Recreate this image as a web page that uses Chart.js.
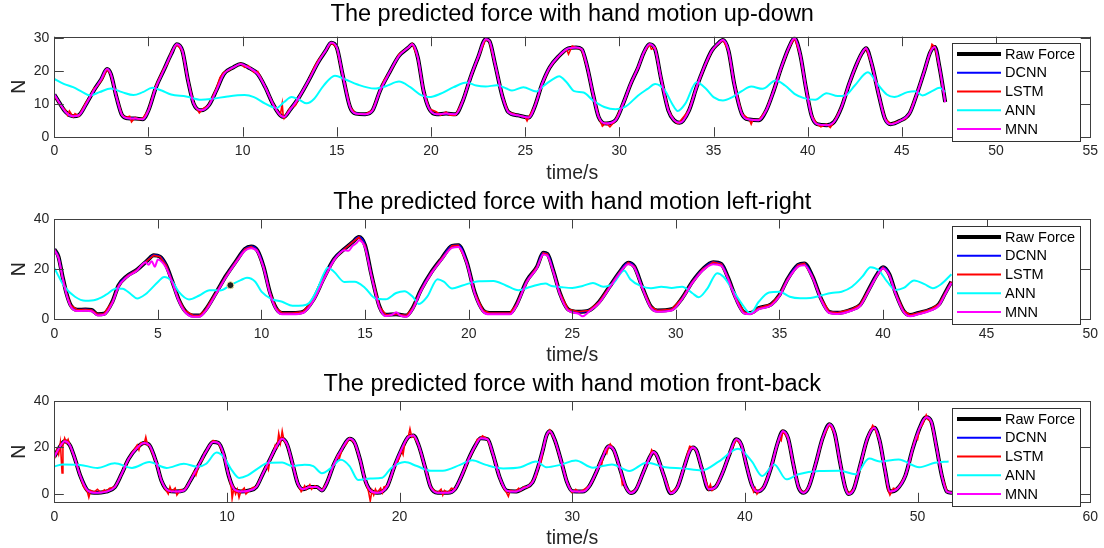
<!DOCTYPE html>
<html>
<head>
<meta charset="utf-8">
<script src="https://cdn.jsdelivr.net/npm/chart.js@4.4.0/dist/chart.umd.min.js"></script>
<style>
html, body { margin: 0; padding: 0; background: #fff; }
#wrap { position: relative; width: 1104px; height: 548px; }
canvas { position: absolute; left: 0; }
</style>
</head>
<body>
<div id="wrap">
<canvas id="upDown" width="1104" height="186" style="top:0px"></canvas>
<canvas id="leftRight" width="1104" height="183" style="top:186px"></canvas>
<canvas id="frontBack" width="1104" height="179" style="top:369px"></canvas>
</div>
<script>
// ---- data: [time (s), force (N)] ----
var seriesNames = ["Raw Force", "DCNN", "LSTM", "ANN", "MNN"];
var titles = [
    "The predicted force with hand motion up-down",
    "The predicted force with hand motion left-right",
    "The predicted force with hand motion front-back"
];
var xTicksUpDown = [0, 5, 10, 15, 20, 25, 30, 35, 40, 45, 50, 55];
var yTicksUpDown = [0, 10, 20, 30];
var xTicksLeftRight = [0, 5, 10, 15, 20, 25, 30, 35, 40, 45, 50];
var yTicksLeftRight = [0, 20, 40];
var xTicksFrontBack = [0, 10, 20, 30, 40, 50, 60];
var yTicksFrontBack = [0, 20, 40];

var rawUpDown = [[0, 12.8], [0.3, 10], [0.6, 7.5], [1.0, 6.2], [1.3, 6.5], [1.7, 10], [2.1, 14], [2.5, 17.5], [2.8, 20.5], [3.0, 19], [3.3, 12], [3.6, 6.5], [3.9, 5.6], [4.3, 5.5], [4.7, 5.3], [5.0, 8], [5.4, 15], [5.8, 20], [6.2, 25], [6.5, 28], [6.8, 26], [7.1, 17], [7.4, 10], [7.8, 8], [8.2, 9.5], [8.6, 14], [9.0, 19], [9.5, 21], [9.9, 22], [10.3, 21], [10.8, 19], [11.2, 15], [11.6, 10], [12.0, 6.5], [12.2, 6], [12.5, 8], [13.0, 12], [13.5, 17], [14.0, 22.5], [14.4, 26], [14.7, 28.5], [15.0, 27], [15.3, 19], [15.7, 9], [16.0, 7], [16.5, 6.8], [16.9, 8], [17.3, 14], [17.8, 19.5], [18.3, 24.5], [18.8, 27], [19.0, 28], [19.3, 24], [19.6, 14], [19.9, 8.5], [20.3, 6.8], [20.8, 7], [21.3, 6.8], [21.7, 11], [22.1, 18], [22.5, 24], [22.9, 29.5], [23.1, 29], [23.4, 22], [23.8, 12], [24.1, 7.5], [24.6, 6.5], [25.2, 5.8], [25.5, 9], [25.9, 16], [26.3, 21], [26.8, 24.5], [27.2, 26.5], [27.7, 27], [28.0, 26.5], [28.3, 21], [28.6, 13], [28.9, 6], [29.3, 4], [29.8, 5], [30.2, 10], [30.6, 16], [31.0, 21], [31.3, 25.5], [31.6, 28], [31.9, 26.5], [32.2, 18], [32.6, 8], [32.9, 5], [33.2, 4.2], [33.7, 8], [34.1, 15], [34.5, 21], [34.9, 26], [35.2, 28], [35.5, 29.3], [35.8, 26], [36.1, 16], [36.5, 7], [36.9, 5.2], [37.4, 5], [37.8, 8], [38.2, 14], [38.6, 21], [39.0, 27], [39.3, 29.8], [39.6, 25], [39.9, 15], [40.2, 6.5], [40.5, 3.8], [41.0, 3.5], [41.4, 4.5], [41.8, 9], [42.2, 16], [42.6, 22], [42.9, 25.5], [43.1, 26.8], [43.4, 22], [43.8, 12], [44.1, 5.5], [44.4, 3.8], [44.9, 4.8], [45.4, 7], [45.8, 13], [46.2, 20], [46.5, 25.5], [46.75, 27.2], [47.0, 21], [47.3, 10.5]];
var lstmUpDown = [[0, 12.5], [0.4, 9], [0.6, 8], [0.7, 6.5], [0.8, 7.8], [1.0, 6], [1.1, 7], [1.3, 6.2], [1.7, 10.5], [1.9, 12], [2.1, 14.5], [2.3, 15.5], [2.5, 17], [2.8, 20.4], [3.0, 19], [3.3, 12], [3.6, 6.5], [3.8, 5.8], [4.0, 6.2], [4.1, 4.5], [4.3, 5.8], [4.5, 5.2], [4.7, 5.6], [5.0, 8], [5.4, 15.5], [5.8, 20.5], [6.0, 22], [6.2, 25.5], [6.5, 28], [6.8, 26], [7.1, 17], [7.4, 10], [7.7, 7.2], [7.9, 8.5], [8.2, 9.5], [8.6, 14.5], [8.8, 18], [9.0, 19.5], [9.3, 20.2], [9.5, 21], [9.9, 22.2], [10.1, 21], [10.3, 21.5], [10.6, 19.5], [10.8, 19.8], [11.2, 15], [11.6, 10], [11.8, 8], [12.0, 6.5], [12.1, 10], [12.15, 6.5], [12.2, 5.5], [12.5, 8.5], [12.8, 9.5], [13.0, 12], [13.5, 17], [13.8, 21], [14.0, 23], [14.4, 26], [14.7, 28.5], [15.0, 27], [15.3, 19], [15.7, 9], [16.0, 7], [16.5, 6.8], [16.9, 8], [17.3, 14], [17.5, 17], [17.8, 19.5], [18.0, 21.5], [18.3, 25], [18.8, 27], [19.0, 28.2], [19.3, 24], [19.6, 14], [19.9, 8.5], [20.3, 7.5], [20.5, 6.5], [20.8, 7.5], [21.0, 6.5], [21.3, 6.5], [21.7, 11], [22.1, 18], [22.5, 24], [22.9, 29.5], [23.1, 29], [23.4, 22], [23.8, 12], [24.1, 7.5], [24.6, 6.5], [25.0, 6], [25.1, 4.8], [25.2, 6], [25.5, 9], [25.9, 16], [26.3, 21], [26.5, 22.5], [26.8, 24.5], [27.2, 26.5], [27.3, 25], [27.5, 27.5], [27.7, 27], [28.0, 26.5], [28.3, 21], [28.6, 13], [28.9, 6], [29.1, 3.2], [29.3, 4.2], [29.5, 3], [29.8, 5], [30.2, 10], [30.6, 16], [31.0, 21], [31.3, 25.5], [31.6, 28], [31.7, 26.5], [31.9, 27], [32.2, 18], [32.6, 8], [32.9, 5], [33.1, 4], [33.2, 4.5], [33.7, 8], [34.1, 15], [34.5, 21], [34.9, 26], [35.2, 28], [35.5, 29.3], [35.8, 26], [36.1, 16], [36.5, 7], [36.9, 5.2], [37.0, 3.8], [37.1, 5.2], [37.4, 5], [37.8, 8], [38.2, 14], [38.6, 21], [39.0, 27], [39.3, 29.8], [39.6, 25], [39.9, 15], [40.2, 6.5], [40.5, 3.8], [40.7, 3], [41.0, 3.8], [41.2, 2.8], [41.4, 4.5], [41.8, 9], [42.2, 16], [42.6, 22], [42.7, 23], [42.8, 24.5], [42.9, 25.5], [43.1, 26.8], [43.4, 22], [43.8, 12], [44.1, 5.5], [44.4, 3.8], [44.9, 4.8], [45.2, 5.5], [45.4, 7], [45.8, 13], [46.2, 20], [46.5, 25.5], [46.6, 28], [46.75, 27.2], [47.0, 21], [47.3, 10.5]];
var annUpDown = [[0, 17.5], [0.5, 16], [1.0, 15], [1.5, 13.5], [1.9, 12.5], [2.4, 13.5], [3.0, 14.6], [3.6, 13.5], [4.2, 12.6], [4.7, 13.5], [5.2, 14.8], [5.7, 14], [6.2, 12.8], [7.0, 12.2], [7.8, 11.2], [8.4, 11.5], [9.2, 12.2], [10.1, 12.6], [10.6, 12], [11.2, 10], [11.8, 8.7], [12.2, 10.5], [12.6, 12], [13.0, 11.2], [13.4, 10.1], [13.8, 11.5], [14.3, 15.5], [14.9, 18.5], [15.4, 17.5], [16.1, 15.8], [17.0, 14.6], [17.6, 15.3], [18.3, 16.7], [18.9, 15], [19.5, 12.5], [19.9, 12], [20.5, 13], [21.2, 15], [21.9, 16.4], [22.4, 15.5], [22.9, 15.2], [23.5, 15.6], [24.0, 14.6], [24.3, 14], [24.9, 15], [25.6, 13.7], [26.0, 15.5], [26.5, 17.5], [26.8, 18.3], [27.2, 16.5], [27.6, 13.8], [28.1, 13.4], [28.6, 11], [29.2, 9], [29.8, 8.3], [30.3, 9], [31.0, 12.5], [31.5, 14.5], [31.9, 16], [32.4, 14.2], [32.8, 10], [33.1, 7.8], [33.5, 10], [34.1, 16.5], [34.6, 14.5], [35.0, 12], [35.5, 11], [36.0, 12], [36.5, 13.8], [37.0, 15.2], [37.6, 14.5], [38.3, 17], [38.8, 15.5], [39.3, 13], [39.8, 11.7], [40.4, 11.2], [41.0, 13.2], [41.6, 12.3], [42.0, 12.5], [42.5, 15.5], [43.2, 19.5], [43.7, 16], [44.2, 12.8], [44.6, 12], [45.3, 13.5], [45.7, 13.8], [46.1, 12.5], [46.6, 13.8], [47.0, 14.8], [47.3, 13.5]];

var rawLeftRight = [[0, 28], [0.2, 25], [0.4, 17], [0.6, 10], [0.8, 5.5], [1.1, 3.8], [1.5, 3.9], [1.8, 3.7], [2.1, 2], [2.4, 2.2], [2.8, 7], [3.1, 13.5], [3.5, 17.2], [4.0, 19.8], [4.5, 23.5], [4.8, 25.5], [5.1, 25], [5.4, 21.5], [5.7, 15], [6.0, 8], [6.3, 3.5], [6.7, 1.5], [7.0, 1.5], [7.3, 3.8], [7.8, 10.5], [8.3, 17.5], [8.8, 23.5], [9.2, 28], [9.5, 29], [9.8, 27.5], [10.1, 21], [10.4, 11], [10.7, 4.5], [11.0, 2.5], [11.5, 2.5], [12.0, 3], [12.5, 7.8], [13.0, 16.3], [13.5, 24], [14.0, 28], [14.4, 30.8], [14.7, 32.8], [15.0, 29.5], [15.3, 18], [15.7, 5], [16.0, 1.8], [16.5, 2], [17.0, 1.5], [17.3, 4.5], [17.7, 11.8], [18.2, 18.8], [18.7, 24.3], [19.2, 29.3], [19.5, 29.5], [19.9, 23], [20.3, 10.5], [20.7, 3.5], [21.0, 2.5], [22.0, 2.5], [22.3, 5.8], [22.8, 15.3], [23.3, 21], [23.6, 26.5], [23.8, 26], [24.1, 19], [24.4, 10.5], [24.8, 4], [25.3, 3], [25.8, 3.5], [26.3, 7], [26.8, 13], [27.3, 19], [27.7, 22.6], [28.0, 21], [28.4, 12.4], [28.8, 5], [29.1, 3.5], [29.8, 4], [30.3, 8.4], [30.8, 15], [31.3, 20], [31.8, 22.8], [32.2, 22], [32.5, 17], [32.9, 8.5], [33.3, 2.8], [33.6, 2.5], [34.0, 4.5], [34.6, 6], [35.0, 9.7], [35.4, 16.2], [35.9, 21.7], [36.2, 22.3], [36.6, 17], [37.0, 8.4], [37.4, 3], [37.8, 2.6], [38.5, 4], [38.9, 5.8], [39.3, 11.7], [39.7, 17.7], [40.0, 20.8], [40.3, 18], [40.6, 10.7], [41.0, 3.3], [41.3, 1.7], [41.7, 2.5], [42.3, 4], [42.7, 6], [43.0, 10.5], [43.3, 15]];
var mnnLeftRight = [[0, 27.5], [0.2, 24.5], [0.4, 16.5], [0.6, 9.5], [0.8, 5], [1.1, 3.3], [1.5, 3.4], [1.8, 3.2], [2.1, 1.5], [2.4, 1.8], [2.8, 6.5], [3.1, 13], [3.5, 16.8], [4.0, 19.5], [4.2, 21.5], [4.4, 22.8], [4.55, 21.8], [4.7, 23.2], [4.85, 21], [5.0, 23.8], [5.2, 22.8], [5.4, 20.5], [5.7, 14.5], [6.0, 7.5], [6.3, 3], [6.7, 1], [7.0, 1], [7.3, 3.3], [7.8, 10], [8.3, 17], [8.8, 23], [9.2, 27.3], [9.5, 28.3], [9.8, 27], [10.1, 20.5], [10.4, 10.5], [10.7, 4], [11.0, 2], [11.5, 2], [12.0, 2.5], [12.5, 7.3], [13.0, 15.8], [13.5, 23.5], [13.8, 26.5], [14.0, 27.5], [14.2, 27.3], [14.4, 29.3], [14.6, 30.5], [14.7, 31.5], [15.0, 28.5], [15.3, 17.5], [15.7, 4.5], [16.0, 1.3], [16.3, 1.8], [16.5, 2.8], [16.7, 1.5], [17.0, 1], [17.3, 4], [17.7, 11.3], [18.2, 18.3], [18.7, 23.8], [19.2, 28.5], [19.5, 28.8], [19.9, 22.5], [20.3, 10], [20.7, 3], [21.0, 2], [22.0, 2], [22.3, 5.3], [22.8, 14.8], [23.3, 20.5], [23.6, 25.8], [23.8, 25.3], [24.1, 18.5], [24.4, 10], [24.8, 3.5], [25.3, 2.2], [25.5, 1.2], [25.8, 3], [26.3, 6.5], [26.8, 12.5], [27.3, 18.5], [27.7, 22], [28.0, 20.5], [28.4, 12], [28.8, 4.5], [29.1, 3], [29.8, 3.5], [30.3, 8], [30.8, 14.5], [31.3, 19.5], [31.8, 22], [32.2, 21.3], [32.5, 16.5], [32.9, 8], [33.3, 2.3], [33.6, 2], [34.0, 4], [34.6, 5.5], [35.0, 9.2], [35.4, 15.7], [35.9, 21], [36.2, 21.6], [36.6, 16.5], [37.0, 8], [37.4, 2.5], [37.8, 2.1], [38.5, 3.5], [38.9, 5.3], [39.3, 11.2], [39.7, 17.2], [40.0, 20.3], [40.3, 17.5], [40.6, 10.2], [41.0, 2.8], [41.3, 1.2], [41.7, 2], [42.3, 3.5], [42.7, 5.5], [43.0, 10], [43.3, 14.5]];
var annLeftRight = [[0, 20.5], [0.5, 12.9], [1.0, 9], [1.5, 7.4], [2.0, 7.8], [2.5, 9.8], [3.0, 12.3], [3.3, 12.2], [3.7, 10], [4.0, 8.3], [4.4, 10], [5.0, 14.9], [5.3, 16.9], [5.7, 15], [6.0, 11], [6.5, 7.9], [7.0, 9.5], [7.5, 11.6], [8.0, 11.5], [8.5, 13.6], [9.0, 15.6], [9.3, 16.6], [9.7, 15], [10.0, 11], [10.5, 8], [11.0, 7], [11.5, 5.4], [12.0, 5.5], [12.3, 6.5], [12.7, 12], [13.0, 18], [13.2, 20.6], [13.5, 19], [14.0, 14.9], [14.5, 15], [15.0, 12.5], [15.5, 8.3], [16.0, 8], [16.5, 10.5], [16.9, 11.2], [17.3, 9], [17.6, 6.1], [18.0, 9], [18.5, 16], [18.8, 15], [19.2, 12.3], [19.7, 13.5], [20.5, 15.2], [21.2, 15.3], [21.8, 13.5], [22.4, 11.6], [23.0, 13], [23.7, 14.3], [24.0, 13.3], [24.5, 12.8], [25.0, 12.5], [25.5, 13.3], [26.0, 14.5], [26.5, 13], [27.0, 14.5], [27.5, 19.5], [27.8, 16], [28.3, 13.3], [28.8, 12.4], [29.3, 13], [29.8, 12.5], [30.3, 13], [30.8, 10.4], [31.1, 8.8], [31.5, 12], [32.0, 18.4], [32.3, 17], [32.8, 11], [33.2, 6], [33.6, 2.4], [34.0, 7], [34.5, 10.7], [35.0, 11], [35.5, 9], [36.0, 8.4], [36.5, 8.5], [37.0, 9.5], [37.5, 10.5], [38.0, 11], [38.5, 13], [39.0, 17], [39.4, 20.8], [39.8, 19.5], [40.2, 15], [40.6, 11.7], [41.0, 12.5], [41.5, 15.5], [42.0, 14], [42.4, 12.4], [42.8, 14], [43.3, 18]];
var tipLeftRight = [[8.5, 13.6]];

var rawFrontBack = [[0, 16], [0.3, 20], [0.6, 22.7], [0.9, 21], [1.2, 15], [1.5, 7.9], [1.9, 1.7], [2.3, 0.5], [3.0, 1], [3.5, 2.9], [3.9, 8.6], [4.3, 15], [4.8, 19.9], [5.2, 21.9], [5.5, 21], [5.9, 13.7], [6.2, 5.8], [6.6, 1.4], [7.0, 1], [7.5, 1.5], [7.9, 6], [8.4, 12.9], [8.8, 18.4], [9.2, 22.3], [9.5, 22], [9.8, 17.3], [10.1, 7.9], [10.4, 2.2], [10.8, 1], [11.3, 1.5], [11.7, 3], [12.1, 9], [12.5, 15], [12.9, 20.9], [13.2, 23.7], [13.5, 21], [13.8, 12.9], [14.1, 4.5], [14.4, 2], [14.8, 3], [15.2, 3], [15.5, 1.5], [15.8, 5], [16.2, 12.9], [16.7, 19.9], [17.1, 23.7], [17.4, 22], [17.7, 15], [18.0, 6], [18.3, 1.5], [18.7, 0.5], [19.0, 1], [19.3, 3.5], [19.7, 11.9], [20.1, 19], [20.5, 24.5], [20.8, 25.2], [21.1, 21], [21.5, 10.8], [21.8, 2.9], [22.2, 0.5], [22.8, 0.5], [23.2, 2], [23.6, 7.9], [24.0, 15.1], [24.4, 21], [24.7, 24], [25.1, 23.5], [25.4, 17.3], [25.8, 7], [26.2, 1.4], [26.7, 1], [27.2, 2.5], [27.7, 5], [28.0, 11], [28.3, 19], [28.5, 25], [28.7, 27], [29.0, 23], [29.4, 13], [29.7, 5], [30.0, 1.2], [30.6, 1], [31.0, 3.5], [31.4, 9.5], [31.8, 16.5], [32.1, 20.5], [32.4, 19], [32.8, 10], [33.1, 3], [33.4, 0.4], [33.7, 2], [34.1, 9], [34.5, 16], [34.7, 18], [34.9, 16.5], [35.3, 8], [35.7, 0.3], [36.1, 3], [36.5, 12], [36.8, 18.5], [37.0, 20], [37.2, 18.5], [37.5, 11], [37.9, 2], [38.3, 3], [38.7, 9], [39.1, 17], [39.5, 23.5], [39.8, 21], [40.1, 12], [40.4, 4], [40.7, 1], [41.1, 3], [41.5, 11], [41.9, 22], [42.2, 27], [42.5, 24], [42.8, 13], [43.1, 3], [43.4, 0.5], [43.7, 3], [44.1, 13], [44.5, 24], [44.9, 30], [45.2, 26], [45.5, 14], [45.8, 3], [46.0, 0], [46.3, 2], [46.7, 13], [47.1, 24], [47.5, 28.5], [47.8, 23], [48.1, 11], [48.4, 1], [48.8, 2], [49.3, 8], [49.7, 19], [50.1, 28], [50.5, 33], [50.8, 31], [51.1, 20], [51.4, 8], [51.7, 1], [52.0, 0.5]];
var lstmFrontBack = [[0, 15], [0.15, 19], [0.25, 17], [0.35, 22], [0.45, 9], [0.5, 21], [0.6, 24], [0.7, 22], [0.8, 23.5], [0.9, 21], [1.2, 15], [1.5, 7.9], [1.7, 3], [1.9, 1.2], [2.0, -1.5], [2.1, 1.5], [2.3, 0.8], [2.5, 2], [2.7, 0.5], [2.9, 1.8], [3.0, 1], [3.2, 2.5], [3.5, 3], [3.7, 5.5], [3.9, 8.6], [4.1, 12], [4.3, 15], [4.5, 17.5], [4.8, 21], [4.9, 19], [5.0, 22], [5.2, 21.5], [5.3, 24.5], [5.4, 21], [5.5, 21], [5.9, 13.7], [6.2, 5.8], [6.4, 2.5], [6.6, 0], [6.7, 3], [6.8, 1], [7.0, 2.5], [7.1, -0.5], [7.3, 1.8], [7.5, 1.5], [7.7, 3.5], [7.9, 6], [8.1, 9.5], [8.2, 8], [8.4, 13], [8.6, 15], [8.7, 17.5], [8.8, 18.4], [9.0, 21], [9.2, 23], [9.5, 22], [9.8, 17.3], [10.1, 7.9], [10.25, 3], [10.3, -2], [10.4, 2.5], [10.5, 0], [10.6, 2], [10.7, -1.5], [10.8, 1], [11.0, 2.5], [11.1, 0], [11.3, 1.5], [11.5, 2.8], [11.7, 3], [11.9, 6], [12.1, 9], [12.3, 12.5], [12.4, 10.5], [12.5, 15], [12.7, 18], [12.8, 21], [12.9, 20], [13.0, 26], [13.1, 22], [13.2, 27], [13.3, 23], [13.5, 21], [13.8, 12.9], [14.1, 4.5], [14.3, 1], [14.4, 2], [14.5, 3.5], [14.6, 2], [14.8, 4], [14.9, 2], [15.1, 3.5], [15.2, 3], [15.5, 1.5], [15.8, 5], [16.0, 9], [16.2, 12.9], [16.4, 16.5], [16.5, 15], [16.7, 20], [16.9, 21.5], [17.1, 24], [17.4, 22], [17.7, 15], [18.0, 6], [18.2, 1], [18.3, -3], [18.4, 1.5], [18.5, -0.5], [18.6, 2], [18.7, 0.5], [18.9, 2.5], [19.0, 0.5], [19.1, 3], [19.3, 3.5], [19.5, 7], [19.7, 11.9], [19.9, 14], [20.0, 16], [20.1, 19], [20.2, 17], [20.3, 22], [20.5, 24.5], [20.6, 28], [20.7, 24.5], [20.8, 25.2], [21.1, 21], [21.5, 10.8], [21.8, 2.9], [22.0, 1.5], [22.2, 0.5], [22.4, 2], [22.5, -0.5], [22.6, 1.5], [22.8, 0.5], [23.0, 2.5], [23.2, 2], [23.4, 4.5], [23.6, 7.9], [23.8, 11], [24.0, 15.1], [24.2, 18], [24.4, 21], [24.5, 23.5], [24.7, 24], [24.8, 25], [25.1, 23.5], [25.4, 17.3], [25.8, 7], [26.0, 3], [26.2, 0.5], [26.3, -1], [26.4, 1.5], [26.7, 1], [26.9, 2.5], [27.0, 1.5], [27.2, 3], [27.4, 2.8], [27.7, 5.5], [27.9, 7.5], [28.0, 11], [28.2, 14], [28.3, 19], [28.5, 25], [28.7, 27.5], [29.0, 23], [29.4, 13], [29.7, 5], [29.9, 2], [30.0, 0.5], [30.2, 2], [30.4, 0.8], [30.6, 1.5], [30.8, 2.5], [31.0, 3.5], [31.2, 6], [31.4, 9.5], [31.6, 13.5], [31.7, 12.5], [31.8, 16.5], [31.9, 19], [32.0, 17.5], [32.1, 20.5], [32.2, 21.5], [32.4, 19], [32.8, 10], [32.9, 4], [33.0, 5], [33.1, 2.5], [33.4, 0.4], [33.7, 2], [34.1, 9], [34.5, 16], [34.6, 19], [34.7, 18], [34.9, 16.5], [35.3, 8], [35.7, 0.3], [36.1, 3], [36.5, 12], [36.7, 18], [36.8, 20.5], [37.0, 20], [37.2, 18.5], [37.5, 11], [37.9, 2], [38.0, 4], [38.1, 1.5], [38.3, 3], [38.7, 9], [39.1, 17], [39.5, 23.5], [39.8, 21], [40.1, 12], [40.4, 4], [40.5, 1], [40.6, 2.5], [40.7, 0], [40.9, 2], [41.1, 3], [41.5, 11], [41.9, 22], [42.0, 24], [42.1, 23], [42.2, 27], [42.5, 24], [42.8, 13], [43.1, 3], [43.3, 1], [43.4, 0.5], [43.6, 2], [43.7, 3], [44.1, 13], [44.5, 24], [44.9, 30], [45.2, 26], [45.5, 14], [45.8, 3], [46.0, 0], [46.3, 2], [46.7, 13], [47.1, 24], [47.4, 29.5], [47.5, 28.5], [47.8, 23], [48.1, 11], [48.3, 1.5], [48.4, -0.5], [48.6, 2.5], [48.8, 2], [49.0, 4], [49.3, 8], [49.5, 12.5], [49.7, 19], [49.8, 22], [49.9, 24.5], [50.0, 23.5], [50.1, 28], [50.3, 30], [50.5, 34], [50.6, 32], [50.8, 31], [51.1, 20], [51.4, 8], [51.7, 1], [52.0, 0.5]];
var annFrontBack = [[0, 11.8], [0.5, 12.7], [1.5, 12.5], [2.5, 11.2], [3.5, 13.2], [4.5, 11.2], [5.5, 13.7], [6.5, 11.2], [7.5, 13], [8.3, 11.7], [8.8, 13], [9.4, 17.8], [9.8, 16], [10.3, 10], [10.7, 6.9], [11.2, 8], [11.8, 11], [12.4, 13.4], [13.2, 13.5], [13.8, 12], [14.5, 12.6], [15.0, 12], [15.5, 8.9], [16.0, 11], [16.6, 14.7], [17.1, 12], [17.6, 6], [18.3, 6.6], [19.0, 7], [19.5, 11], [20.3, 13.7], [21.0, 12], [21.8, 10], [22.5, 10], [23.5, 12.5], [24.2, 14.5], [25.0, 12.5], [26.0, 11], [27.0, 11.5], [27.9, 14], [28.5, 11.5], [29.3, 12.5], [30.2, 14.4], [31.2, 11.3], [32.3, 12.7], [33.3, 9.9], [34.3, 13.4], [35.4, 11.5], [36.4, 11], [37.5, 10.1], [38.5, 14], [39.6, 19.4], [40.4, 14], [41.0, 7.7], [41.7, 12.7], [42.4, 6.3], [43.1, 8.5], [44.3, 9.9], [45.5, 10], [46.4, 8.5], [47.2, 15.2], [47.8, 14], [48.9, 14.8], [50.1, 11.5], [51.0, 13.4], [51.8, 14]];

// ---- styles ----
Chart.defaults.font.family = '"Liberation Sans", Arial, Helvetica, sans-serif';
Chart.defaults.color = "#262626";
var lineColors = ["#000000", "#0000ff", "#ff0000", "#00ffff", "#ff00ff"];
var lineWidths = [4, 2, 1.6, 2, 2];

// MATLAB style box with inward ticks on all four sides
var axesFrame = {
    id: "axesFrame",
    afterDatasetsDraw: function (chart) {
        var ctx = chart.ctx, a = chart.chartArea, xs = chart.scales.x, ys = chart.scales.y;
        ctx.save();
        ctx.strokeStyle = "#404040";
        ctx.lineWidth = 1;
        ctx.strokeRect(Math.round(a.left) + 0.5, Math.round(a.top) + 0.5,
            Math.round(a.right - a.left), Math.round(a.bottom - a.top));
        ctx.beginPath();
        xs.ticks.forEach(function (t) {
            var px = Math.round(xs.getPixelForValue(t.value)) + 0.5;
            ctx.moveTo(px, a.bottom); ctx.lineTo(px, a.bottom - 9.5);
            ctx.moveTo(px, a.top); ctx.lineTo(px, a.top + 9.5);
        });
        ys.ticks.forEach(function (t) {
            var py = Math.round(ys.getPixelForValue(t.value)) + 0.5;
            ctx.moveTo(a.left, py); ctx.lineTo(a.left + 9.5, py);
            ctx.moveTo(a.right, py); ctx.lineTo(a.right - 9.5, py);
        });
        ctx.stroke();
        ctx.restore();
    }
};

// legend box in the upper right, partly over the axes
var legendBox = {
    id: "legendBox",
    afterDraw: function (chart) {
        var ctx = chart.ctx, a = chart.chartArea;
        var x0 = 952, y0 = Math.round(a.top + 6.5), w = 128, h = 98;
        ctx.save();
        ctx.fillStyle = "#ffffff";
        ctx.fillRect(x0, y0, w, h);
        ctx.strokeStyle = "#333333";
        ctx.lineWidth = 1;
        ctx.strokeRect(x0 + 0.5, y0 + 0.5, w, h);
        ctx.font = "14.5px " + Chart.defaults.font.family;
        ctx.textBaseline = "middle";
        ctx.textAlign = "left";
        for (var i = 0; i < 5; i++) {
            var ds = chart.data.datasets[i];
            var y = y0 + 11 + i * 18.75;
            ctx.strokeStyle = ds.borderColor;
            ctx.lineWidth = i === 0 ? 4 : 2;
            ctx.beginPath();
            ctx.moveTo(x0 + 5, y);
            ctx.lineTo(x0 + 49, y);
            ctx.stroke();
            ctx.fillStyle = "#000000";
            ctx.fillText(ds.label, x0 + 53, y + 0.5);
        }
        ctx.restore();
    }
};

function makeChart(id, p) {
    var lines = [p.raw, p.dcnn, p.lstm, p.ann, p.mnn];
    var datasets = lines.map(function (d, i) {
        return {
            label: seriesNames[i],
            data: d,
            borderColor: lineColors[i],
            borderWidth: lineWidths[i],
            order: 5 - i,
            pointRadius: 0,
            fill: false,
            tension: 0,
            cubicInterpolationMode: i === 2 ? "default" : "monotone"
        };
    });
    if (p.tip) {
        datasets.push({
            label: "tip", data: p.tip, showLine: false, order: 0,
            pointRadius: 3.5, pointBackgroundColor: "#1e1e1e",
            pointBorderColor: "#efe6a0", pointBorderWidth: 1
        });
    }
    return new Chart(document.getElementById(id), {
        type: "line",
        data: { datasets: datasets },
        plugins: [axesFrame, legendBox],
        options: {
            responsive: false,
            animation: false,
            devicePixelRatio: 1,
            events: [],
            layout: { padding: { left: 0, right: 11.5, top: 0, bottom: 0 } },
            plugins: {
                legend: { display: false },
                tooltip: { enabled: false },
                title: {
                    display: true,
                    text: p.title,
                    fullSize: false,
                    color: "#000000",
                    font: { size: 23.5, weight: "normal", lineHeight: 1.2 },
                    padding: p.titlePad
                }
            },
            scales: {
                x: {
                    type: "linear",
                    min: 0,
                    max: p.xTicks[p.xTicks.length - 1],
                    afterBuildTicks: function (s) {
                        s.ticks = p.xTicks.map(function (v) { return { value: v }; });
                    },
                    afterFit: function (s) { s.height = p.xAxisH; },
                    grid: { display: false, drawTicks: false },
                    border: { display: false },
                    ticks: {
                        padding: 6, autoSkip: false, maxRotation: 0,
                        font: { size: 14 },
                        callback: function (v) { return String(v); }
                    },
                    title: {
                        display: true, text: "time/s", color: "#262626",
                        font: { size: 19.5, lineHeight: 1 },
                        padding: { top: 0, bottom: p.xTitleBottom }
                    }
                },
                y: {
                    min: p.yMin,
                    max: p.yMax,
                    afterBuildTicks: function (s) {
                        s.ticks = p.yTicks.map(function (v) { return { value: v }; });
                    },
                    afterFit: function (s) { s.width = 54.3; },
                    grid: { display: false, drawTicks: false },
                    border: { display: false },
                    ticks: {
                        padding: 5, font: { size: 14 },
                        callback: function (v) { return String(v); }
                    },
                    title: {
                        display: true, text: "N", color: "#262626",
                        font: { size: 19.5, lineHeight: 1 },
                        padding: { top: 10, bottom: 0 }
                    }
                }
            }
        }
    });
}

makeChart("upDown", {
    title: titles[0], raw: rawUpDown, dcnn: rawUpDown, lstm: lstmUpDown, ann: annUpDown, mnn: rawUpDown,
    xTicks: xTicksUpDown, yTicks: yTicksUpDown, yMin: 0, yMax: 30.3,
    titlePad: { top: 0.9, bottom: 7.6 }, xAxisH: 49.3, xTitleBottom: 3
});
makeChart("leftRight", {
    title: titles[1], raw: rawLeftRight, dcnn: rawLeftRight, lstm: rawLeftRight, ann: annLeftRight, mnn: mnnLeftRight,
    tip: tipLeftRight,
    xTicks: xTicksLeftRight, yTicks: yTicksLeftRight, yMin: 0, yMax: 40,
    titlePad: { top: 2.6, bottom: 2.2 }, xAxisH: 49.7, xTitleBottom: 3.25
});
makeChart("frontBack", {
    title: titles[2], raw: rawFrontBack, dcnn: rawFrontBack, lstm: lstmFrontBack, ann: annFrontBack, mnn: rawFrontBack,
    xTicks: xTicksFrontBack, yTicks: yTicksFrontBack, yMin: -3.6, yMax: 40,
    titlePad: { top: 1.9, bottom: 1.9 }, xAxisH: 45.7, xTitleBottom: 0
});
</script>
</body>
</html>
